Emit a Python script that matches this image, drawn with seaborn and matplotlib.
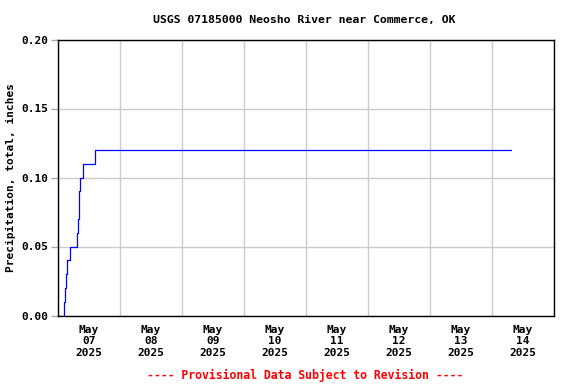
import matplotlib
matplotlib.use("Agg")
import matplotlib.pyplot as plt
import seaborn as sns
import pandas as pd

times = ["2025-05-07 00:00", "2025-05-07 02:30", "2025-05-07 02:45", "2025-05-07 03:00",
         "2025-05-07 03:30", "2025-05-07 04:30", "2025-05-07 07:15", "2025-05-07 07:45",
         "2025-05-07 08:00", "2025-05-07 08:15", "2025-05-07 08:30", "2025-05-07 09:30",
         "2025-05-07 14:15", "2025-05-14 07:30"]
precip = [0.00, 0.01, 0.02, 0.03, 0.04, 0.05, 0.06, 0.07, 0.08, 0.09, 0.10, 0.11, 0.12, 0.12]
day_labels = ["May\n07\n2025", "May\n08\n2025", "May\n09\n2025", "May\n10\n2025",
              "May\n11\n2025", "May\n12\n2025", "May\n13\n2025", "May\n14\n2025"]
y_ticks = [0.00, 0.05, 0.10, 0.15, 0.20]

df = pd.DataFrame({"time": pd.to_datetime(times), "precip": precip})

sns.set_style("white")
plt.rcParams["font.family"] = ["DejaVu Sans Mono"]
plt.rcParams["font.weight"] = "bold"
plt.rcParams["text.color"] = "black"
plt.rcParams["axes.labelcolor"] = "black"
plt.rcParams["xtick.color"] = "black"
plt.rcParams["ytick.color"] = "black"

fig = plt.figure(figsize=(5.76, 3.84), dpi=100)
ax = fig.add_axes([58/576, 1-315.5/384, 496/576, (315.5-39.5)/384])

sns.lineplot(data=df, x="time", y="precip", ax=ax, color="#0000ff",
             linewidth=0.9, drawstyle="steps-post")

start = pd.Timestamp("2025-05-07 00:00")
end = pd.Timestamp("2025-05-15 00:00")
ax.set_xlim(start, end)
ax.set_ylim(0, 0.20)

major = pd.date_range(start, end, freq="D")
ax.set_xticks(major)
ax.set_xticklabels([""] * len(major))
minor = pd.date_range("2025-05-07 12:00", periods=8, freq="D")
ax.set_xticks(minor, minor=True)
ax.set_xticklabels(day_labels, minor=True, fontsize=8, fontweight="bold",
                   linespacing=1.15, color="black")
ax.tick_params(axis="x", which="both", length=0, pad=7)

ax.set_yticks(y_ticks)
ax.set_yticklabels([f"{v:.2f}" for v in y_ticks], fontsize=8, fontweight="bold", color="black")
ax.tick_params(axis="y", length=5, width=1, color="#aaaaaa", pad=2, left=True)

ax.grid(True, which="major", color="#cccccc", linewidth=1)
for s in ax.spines.values():
    s.set_color("black")
    s.set_linewidth(1)
    s.set_visible(True)

ax.set_xlabel("")
ax.set_ylabel("Precipitation, total, inches", fontsize=8, fontweight="bold",
              labelpad=4, color="black")

fig.text(304.5/576, 1-20/384,
         "USGS 07185000 Neosho River near Commerce, OK",
         ha="center", va="center", fontsize=8.25, fontweight="bold", color="black")
fig.text(305/576, 1-375/384,
         "---- Provisional Data Subject to Revision ----",
         ha="center", va="center", fontsize=8.3, fontweight="bold", color="red")

fig.savefig("out.png", dpi=100)
